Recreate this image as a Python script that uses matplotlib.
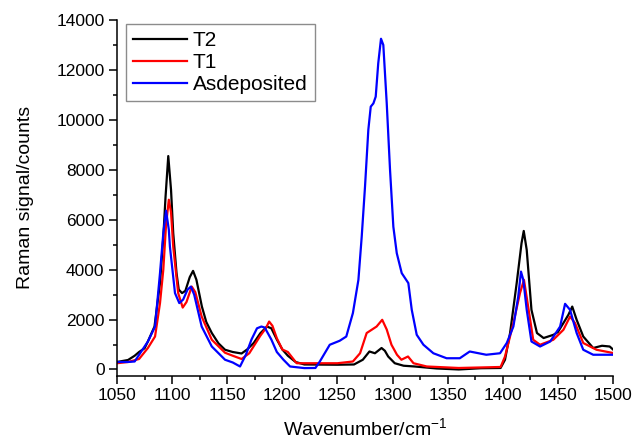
import matplotlib

matplotlib.use("Agg")
import matplotlib.pyplot as plt
from matplotlib.ticker import MultipleLocator

plt.rcParams["font.family"] = ["Liberation Sans", "DejaVu Sans"]
plt.rcParams["mathtext.fontset"] = "custom"
plt.rcParams["mathtext.rm"] = "Liberation Sans"

# T2 (black)
wn_t2 = [1050, 1060, 1066, 1070, 1075, 1078, 1084, 1089, 1092, 1094, 1096.5, 1099,
         1101, 1104, 1106, 1109, 1112, 1116, 1119, 1122, 1127, 1131, 1136, 1142,
         1148, 1155, 1163, 1168, 1174, 1180, 1186, 1190, 1195, 1200, 1205, 1212,
         1220, 1250, 1265, 1273, 1279, 1284, 1290, 1293, 1296, 1302, 1310, 1320,
         1340, 1360, 1380, 1398, 1402, 1406.6, 1412.6, 1417, 1419, 1421.7, 1426,
         1431, 1437, 1446, 1450, 1455, 1459.5, 1463, 1467, 1473, 1482, 1490, 1497,
         1500]
t2 = [300, 380, 550, 700, 850, 1120, 1720, 3460, 5300, 6900, 8550, 7200,
      5460, 3860, 3200, 3060, 3150, 3700, 3950, 3600, 2520, 1900, 1460, 1050,
      790, 700, 640, 800, 1060, 1450, 1720, 1650, 1200, 800, 550, 300,
      200, 190, 200, 390, 720, 650, 860, 750, 520, 250, 150, 120,
      40, 0, 50, 60, 390, 1460, 3460, 5060, 5550, 4790, 2390,
      1460, 1260, 1390, 1500, 1860, 2190, 2520, 1990, 1320, 860, 950, 920,
      800]

# T1 (red)
wn_t1 = [1050, 1060, 1070, 1078, 1084.5, 1089, 1092, 1094.5, 1097, 1099, 1101,
         1105.5, 1109.6, 1113, 1117.8, 1121, 1126.8, 1136, 1148, 1155, 1163,
         1170, 1175, 1180, 1185, 1188, 1191, 1195, 1200, 1205, 1213, 1220, 1250,
         1264, 1270.5, 1276.5, 1281, 1285.5, 1290.6, 1294.7, 1299, 1304, 1308,
         1314, 1319, 1331, 1360, 1398, 1402, 1409.6, 1415.6, 1419.2, 1423,
         1427.6, 1433.8, 1445.8, 1455, 1461, 1465.5, 1473, 1485, 1500]
t1 = [250, 300, 420, 860, 1320, 2660, 4000, 5800, 6800, 6300, 4920,
      3060, 2480, 2700, 3320, 3100, 2120, 1190, 670, 550, 420,
      650, 1000, 1350, 1650, 1920, 1750, 1250, 800, 700, 250, 250, 250,
      320, 650, 1460, 1590, 1720, 1990, 1600, 990, 590, 390,
      520, 250, 120, 60, 100, 520, 1860, 3060, 3590, 2520,
      1190, 990, 1190, 1590, 2120, 1860, 1060, 790, 660]

# As deposited (blue)
wn_ad = [1050, 1060, 1066, 1078, 1084.5, 1089, 1092, 1094.5, 1097, 1098,
         1102.6, 1106.5, 1110, 1114, 1117, 1120, 1126.8, 1136, 1148, 1155,
         1161.6, 1167, 1172, 1177, 1181, 1184, 1190, 1195, 1201, 1207, 1220,
         1230, 1234, 1243, 1252, 1258, 1264, 1269, 1272, 1275, 1278, 1280.2,
         1282.6, 1284.7, 1287, 1289.5, 1291.6, 1294.7, 1297.7, 1300.7, 1303.8,
         1308.3, 1314.3, 1317.4, 1321.9, 1328, 1337, 1349, 1361, 1370, 1385,
         1397.5, 1403.6, 1409.6, 1414, 1416.5, 1418.6, 1421.7, 1426, 1433.8,
         1443, 1452, 1456.5, 1461, 1467, 1473, 1482, 1500]
ad = [300, 300, 320, 1120, 1720, 3860, 5460, 6360, 5600, 4920,
      3060, 2660, 2800, 3200, 3320, 3000, 1720, 920, 390, 280,
      120, 600, 1200, 1650, 1720, 1680, 1200, 700, 390, 120, 55,
      60, 320, 990, 1150, 1320, 2260, 3590, 5320, 7330, 9600, 10530,
      10660, 10930, 12270, 13250, 13000, 10660, 7990, 5720, 4660,
      3860, 3460, 2390, 1390, 990, 650, 450, 450, 720, 590,
      650, 1060, 1720, 2920, 3920, 3590, 2390, 1120, 920,
      1120, 1720, 2630, 2390, 1460, 790, 590, 590]

fig = plt.figure(figsize=(6.44, 4.4), dpi=100)
ax = fig.add_axes([0.1817, 0.1461, 0.7702, 0.8084])

ax.plot(wn_t2, t2, color="black", lw=1.6, label="T2")
ax.plot(wn_t1, t1, color="#ff0000", lw=1.6, label="T1")
ax.plot(wn_ad, ad, color="#0000ff", lw=1.6, label="Asdeposited")

ax.set_xlim(1050, 1500)
ax.set_ylim(-250, 14000)
ax.xaxis.set_major_locator(MultipleLocator(50))
ax.xaxis.set_minor_locator(MultipleLocator(25))
ax.yaxis.set_major_locator(MultipleLocator(2000))
ax.yaxis.set_minor_locator(MultipleLocator(1000))
ax.spines["top"].set_visible(False)
ax.spines["right"].set_visible(False)
for s in ("left", "bottom"):
    ax.spines[s].set_linewidth(1.1)
ax.tick_params(which="major", direction="out", length=5.5, width=1.1, labelsize=12.5)
ax.tick_params(which="minor", direction="out", length=3, width=1.1)

ax.set_xlabel("Wavenumber/cm$^{\\mathregular{\u22121}}$", fontsize=14, labelpad=10)
ax.set_ylabel("Raman signal/counts", fontsize=14, labelpad=16)

leg = ax.legend(loc="upper left", bbox_to_anchor=(0.018, 0.99), fontsize=15,
                frameon=True, fancybox=False, handlelength=2.6,
                borderpad=0.35, labelspacing=0.15, handletextpad=0.25,
                borderaxespad=0)
leg.get_frame().set_edgecolor("#707070")
leg.get_frame().set_linewidth(1.0)

fig.savefig("out.png", dpi=100)
